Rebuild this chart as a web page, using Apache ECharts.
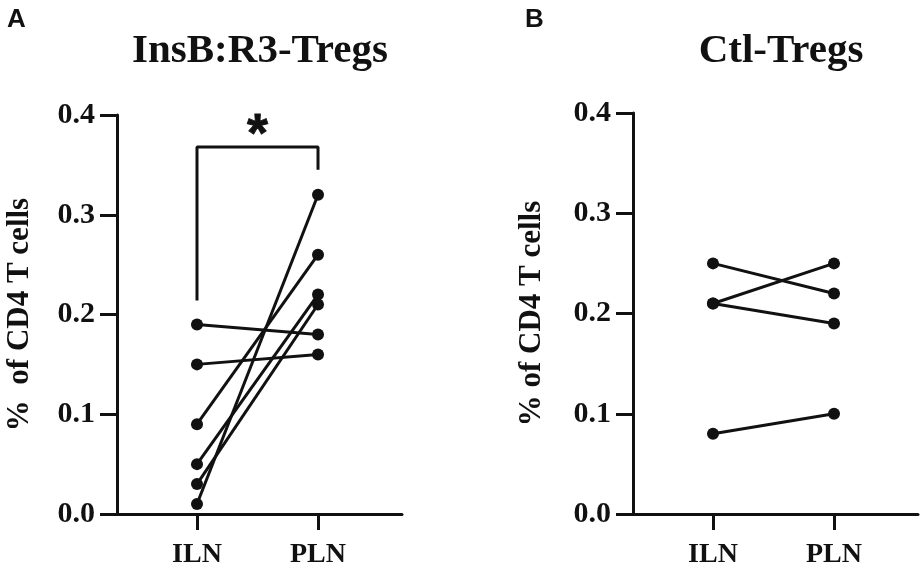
<!DOCTYPE html>
<html>
<head>
<meta charset="utf-8">
<script src="https://cdn.jsdelivr.net/npm/echarts@6/dist/echarts.min.js"></script>
<style>
  html, body { margin: 0; padding: 0; background: #fff; }
  #main { width: 922px; height: 569px; }
</style>
</head>
<body>
<div id="main"></div>
<script>
// categories on the x axis (placed at 1 and 2 on a value axis)
var categories = ['ILN', 'PLN'];
var yTicks = [0, 0.1, 0.2, 0.3, 0.4];

// panel A: InsB:R3-Tregs, paired samples
var insbILN = [0.19, 0.15, 0.09, 0.05, 0.03, 0.01];
var insbPLN = [0.18, 0.16, 0.26, 0.22, 0.21, 0.32];

// panel B: Ctl-Tregs, paired samples
var ctlILN = [0.25, 0.21, 0.21, 0.08];
var ctlPLN = [0.22, 0.25, 0.19, 0.10];

// significance bracket in panel A (y values)
var bracketLow = 0.214;
var bracketTop = 0.368;
var bracketRight = 0.345;
var starY = 0.379;

var chartDom = document.getElementById('main');
var myChart = echarts.init(chartDom);
var option;

var serif = 'Liberation Serif';
var ink = '#111';

function pairSeries(iln, pln, gridIdx) {
  var out = [];
  for (var i = 0; i < iln.length; i++) {
    out.push({
      type: 'line',
      xAxisIndex: gridIdx,
      yAxisIndex: gridIdx,
      symbol: 'circle',
      symbolSize: 12,
      showSymbol: true,
      itemStyle: { color: ink },
      lineStyle: { color: ink, width: 3 },
      silent: true,
      animation: false,
      data: [[1, iln[i]], [2, pln[i]]]
    });
  }
  return out;
}

function makeXAxis(gridIdx) {
  return {
    type: 'value',
    gridIndex: gridIdx,
    min: 0.339,
    max: 2.694,
    splitLine: { show: false },
    axisLine: { lineStyle: { color: ink, width: 3 } },
    axisTick: { customValues: [1, 2], length: 16, lineStyle: { color: ink, width: 3 } },
    axisLabel: {
      customValues: [1, 2],
      margin: 27,
      fontFamily: serif,
      fontWeight: 'bold',
      fontSize: 28,
      color: ink,
      formatter: function (v) { return categories[Math.round(v) - 1]; }
    }
  };
}

function makeYAxis(gridIdx, name, gap) {
  return {
    type: 'value',
    gridIndex: gridIdx,
    min: 0,
    max: 0.4,
    interval: 0.1,
    splitLine: { show: false },
    axisLine: { show: true, lineStyle: { color: ink, width: 3 } },
    axisTick: { show: true, length: 17, lineStyle: { color: ink, width: 3 } },
    axisLabel: {
      margin: 22,
      fontFamily: serif,
      fontWeight: 'bold',
      fontSize: 30,
      color: ink,
      formatter: function (v) { return v.toFixed(1); }
    },
    name: name,
    nameLocation: 'middle',
    nameGap: gap,
    nameTextStyle: {
      fontFamily: serif,
      fontWeight: 'bold',
      fontSize: 31,
      color: ink
    }
  };
}

var series = pairSeries(insbILN, insbPLN, 0).concat(pairSeries(ctlILN, ctlPLN, 1));

series.push({
  type: 'line',
  xAxisIndex: 0,
  yAxisIndex: 0,
  symbol: 'none',
  silent: true,
  animation: false,
  lineStyle: { color: ink, width: 3 },
  data: [[1, bracketLow], [1, bracketTop], [2, bracketTop], [2, bracketRight]]
});

series.push({
  type: 'scatter',
  xAxisIndex: 0,
  yAxisIndex: 0,
  symbolSize: 0,
  silent: true,
  animation: false,
  itemStyle: { color: ink, opacity: 1 },
  label: {
    show: true,
    position: 'inside',
    formatter: '*',
    fontFamily: 'Liberation Sans',
    fontWeight: 'bold',
    fontSize: 54,
    color: ink,
    opacity: 1,
    textBorderColor: ink,
    textBorderWidth: 0.8
  },
  data: [[1.5, starY]]
});

option = {
  backgroundColor: '#fff',
  animation: false,
  title: [
    { text: 'A', left: 2, top: 2, textStyle: { fontFamily: 'Liberation Sans', fontWeight: 'bold', fontSize: 26, color: ink } },
    { text: 'B', left: 520, top: 2, textStyle: { fontFamily: 'Liberation Sans', fontWeight: 'bold', fontSize: 26, color: ink } },
    { text: 'InsB:R3-Tregs', left: 255, top: 26, textAlign: 'center', textStyle: { fontFamily: serif, fontWeight: 'bold', fontSize: 41, color: ink } },
    { text: 'Ctl-Tregs', left: 776, top: 26, textAlign: 'center', textStyle: { fontFamily: serif, fontWeight: 'bold', fontSize: 41, color: ink } }
  ],
  grid: [
    { left: 117, top: 115, width: 285, height: 402 },
    { left: 633, top: 113, width: 285, height: 402 }
  ],
  xAxis: [makeXAxis(0), makeXAxis(1)],
  yAxis: [makeYAxis(0, '%  of CD4 T cells', 82), makeYAxis(1, '% of CD4 T cells', 86)],
  series: series
};

option && myChart.setOption(option);
</script>
</body>
</html>
